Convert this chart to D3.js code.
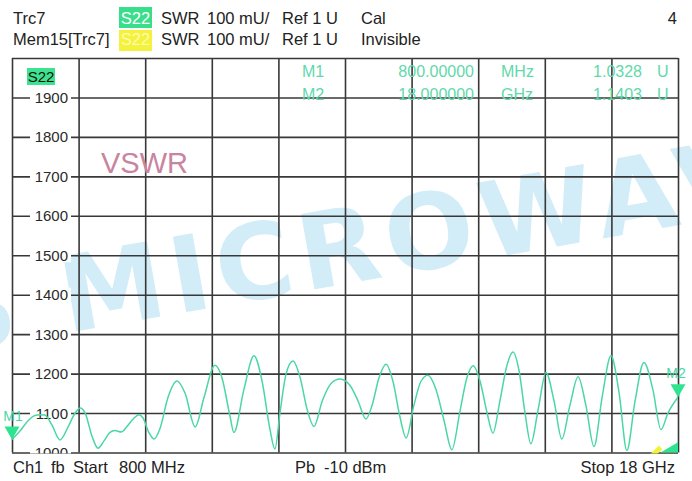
<!DOCTYPE html>
<html>
<head>
<meta charset="utf-8">
<script src="https://cdn.jsdelivr.net/npm/d3@7/dist/d3.min.js"></script>
<style>
body { margin: 0; background: #fff; }
svg { display: block; font-family: "Liberation Sans", Arial, sans-serif; }
</style>
</head>
<body>
<div id="chart"></div>
<script>
// trace: frequency (GHz) and SWR (mU)
const freqGHz = [0.80, 1.01, 1.21, 1.39, 1.52, 1.65, 1.83, 2.04, 2.25, 2.43, 2.56, 2.69, 2.87, 3.02,
  3.18, 3.33, 3.46, 3.62, 3.77, 3.93, 4.08, 4.18, 4.34, 4.47, 4.62, 4.83, 5.06, 5.27, 5.53, 5.76,
  6.04, 6.22, 6.43, 6.53, 6.79, 7.05, 7.26, 7.46, 7.59, 7.72, 7.88, 8.06, 8.24, 8.42, 8.60, 8.81,
  9.04, 9.27, 9.53, 9.74, 9.94, 10.10, 10.28, 10.46, 10.64, 10.82, 10.98, 11.18, 11.36, 11.54,
  11.75, 11.96, 12.16, 12.37, 12.55, 12.71, 12.89, 13.07, 13.22, 13.40, 13.58, 13.74, 13.89,
  14.05, 14.20, 14.39, 14.59, 14.80, 15.00, 15.21, 15.42, 15.62, 15.83, 16.04, 16.27, 16.48,
  16.68, 16.89, 17.12, 17.35, 17.56, 17.74, 18.00];
const swrMilli = [1033, 1055, 1080, 1094, 1096, 1095, 1070, 1032, 1065, 1100, 1113, 1100, 1040, 1011,
  1030, 1051, 1056, 1052, 1066, 1085, 1096, 1088, 1050, 1034, 1060, 1140, 1181, 1150, 1065, 1140,
  1221, 1190, 1092, 1051, 1160, 1245, 1180, 1060, 1009, 1100, 1200, 1232, 1190, 1110, 1066, 1130,
  1175, 1186, 1170, 1130, 1085, 1120, 1190, 1224, 1180, 1090, 1037, 1120, 1180, 1196,
  1160, 1080, 1007, 1105, 1190, 1220, 1180, 1100, 1049, 1130, 1220, 1255, 1210,
  1100, 1022, 1110, 1203, 1130, 1034, 1120, 1192, 1120, 1015, 1140, 1245, 1150,
  1005, 1130, 1228, 1160, 1058, 1100, 1140];

const yTicks = [1000, 1100, 1200, 1300, 1400, 1500, 1600, 1700, 1800, 1900, 2000];
const yTickLabels = ['1000', '1100', '1200', '1300', '1400', '1500', '1600', '1700', '1800', '1900'];
const xDivisions = [0.80, 2.52, 4.24, 5.96, 7.68, 9.40, 11.12, 12.84, 14.56, 16.28, 18.00];

const markerNames = ['M1', 'M2'];
const markerFreq = [0.8, 18];
const markerSwr = [1032.8, 1140.3];
const markerStim = ['800.00000', '18.000000'];
const markerStimUnit = ['MHz', 'GHz'];
const markerResp = ['1.0328', '1.1403'];

// memory trace, only its tail shows above the bottom edge
const memFreq = [17.25, 17.55];
const memSwr = [984, 1013];
const tailFreq = [17.55, 18.0];
const tailSwr = [1000, 1026];

const width = 692, height = 481;
const traceColor = '#4ad7a3';
const markColor = '#2fe48f';

const svg = d3.select('#chart').append('svg')
  .attr('width', width)
  .attr('height', height);

const x = d3.scaleLinear().domain([0.8, 18]).range([12, 678]);
const y = d3.scaleLinear().domain([1000, 2000]).range([452.5, 58]);

svg.append('defs').append('clipPath').attr('id', 'plot')
  .append('rect')
  .attr('x', x(0.8)).attr('y', y(2000))
  .attr('width', x(18) - x(0.8)).attr('height', y(1000) - y(2000) + 1);

// watermark
const wm = svg.append('g')
  .attr('transform', 'translate(67,333) rotate(-10)')
  .attr('font-family', '"DejaVu Sans", sans-serif')
  .attr('font-weight', 'bold')
  .attr('font-size', 105)
  .attr('fill', '#d2ecf8');
wm.append('text').attr('x', -122).text('S');
wm.append('text').attr('letter-spacing', 7).text('MICROWAVE');

// grid
const grid = svg.append('g');
grid.append('g')
  .attr('transform', `translate(0,${y(1000)})`)
  .call(d3.axisBottom(x).tickValues(xDivisions).tickSize(-(y(1000) - y(2000))).tickFormat(''));
grid.append('g')
  .attr('transform', `translate(${x(0.8)},0)`)
  .call(d3.axisLeft(y).tickValues(yTicks).tickSize(-(x(18) - x(0.8))).tickFormat(''));
grid.selectAll('.domain').remove();
grid.selectAll('line').attr('stroke', '#383838').attr('stroke-width', 1.6);

// y labels sit on the grid lines with a white backing
const yl = svg.append('g').attr('clip-path', 'url(#plot)');
yl.selectAll('rect').data(yTickLabels).enter().append('rect')
  .attr('x', 30).attr('width', 41)
  .attr('y', d => y(+d) - 7).attr('height', 14)
  .attr('fill', '#fff');
yl.selectAll('text').data(yTickLabels).enter().append('text')
  .attr('x', 68).attr('y', d => y(+d) + 5.5)
  .attr('text-anchor', 'end')
  .attr('font-size', 15)
  .attr('fill', '#2a2a2a')
  .text(d => d);

// trace
const line = d3.line()
  .x(d => x(d[0]))
  .y(d => y(d[1]))
  .curve(d3.curveMonotoneX);

svg.append('path')
  .datum(d3.zip(freqGHz, swrMilli))
  .attr('clip-path', 'url(#plot)')
  .attr('fill', 'none')
  .attr('stroke', traceColor)
  .attr('stroke-width', 1.5)
  .attr('d', line);

svg.append('path')
  .datum(d3.zip(memFreq, memSwr))
  .attr('clip-path', 'url(#plot)')
  .attr('fill', 'none')
  .attr('stroke', '#f2f23a')
  .attr('stroke-width', 5)
  .attr('d', d3.line().x(d => x(d[0])).y(d => y(d[1])));

svg.append('path')
  .datum(d3.zip(tailFreq, tailSwr))
  .attr('fill', markColor)
  .attr('d', d3.area().x(d => x(d[0])).y0(y(1000)).y1(d => y(d[1])));

// markers
const mk = svg.append('g').selectAll('g')
  .data(markerNames).enter().append('g')
  .attr('transform', (d, i) => `translate(${x(markerFreq[i])},${y(markerSwr[i])})`);
mk.append('path')
  .attr('d', 'M0,0 L-7.5,-13 L7.5,-13 Z')
  .attr('fill', markColor);
mk.append('text')
  .attr('x', (d, i) => i === 0 ? 1 : -2)
  .attr('y', -19)
  .attr('text-anchor', 'middle')
  .attr('font-size', 14)
  .attr('fill', traceColor)
  .text(d => d);

// marker table
const table = svg.append('g')
  .attr('font-size', 16)
  .attr('fill', '#5fd9ab');
markerNames.forEach((name, i) => {
  const by = 77 + i * 23;
  table.append('text').attr('x', 302).attr('y', by).text(name);
  table.append('text').attr('x', 474).attr('y', by).attr('text-anchor', 'end').text(markerStim[i]);
  table.append('text').attr('x', 501).attr('y', by).text(markerStimUnit[i]);
  table.append('text').attr('x', 642).attr('y', by).attr('text-anchor', 'end').text(markerResp[i]);
  table.append('text').attr('x', 657).attr('y', by).text('U');
});

// trace label inside the grid
svg.append('rect').attr('x', 27).attr('y', 68).attr('width', 28).attr('height', 17).attr('fill', '#3ee38f');
svg.append('text').attr('x', 41).attr('y', 82).attr('text-anchor', 'middle')
  .attr('font-size', 15).attr('fill', '#111').text('S22');

svg.append('text')
  .attr('x', 101).attr('y', 173)
  .attr('font-size', 29)
  .attr('fill', '#c9849f')
  .text('VSWR');

// header
const head = svg.append('g').attr('font-size', 16.5).attr('fill', '#222');
head.append('text').attr('x', 13).attr('y', 24).text('Trc7');
head.append('text').attr('x', 13).attr('y', 45).text('Mem15[Trc7]');
head.append('rect').attr('x', 119).attr('y', 7).attr('width', 33).attr('height', 21).attr('fill', '#38de8a');
head.append('rect').attr('x', 119).attr('y', 30).attr('width', 33).attr('height', 21).attr('fill', '#f4f23c');
head.append('text').attr('x', 135.5).attr('y', 24).attr('text-anchor', 'middle').attr('fill', '#fff').text('S22');
head.append('text').attr('x', 135.5).attr('y', 45).attr('text-anchor', 'middle').attr('fill', '#fdfbb0').text('S22');
[24, 45].forEach((by, i) => {
  head.append('text').attr('x', 161).attr('y', by).text('SWR');
  head.append('text').attr('x', 207).attr('y', by).text('100 mU/');
  head.append('text').attr('x', 282).attr('y', by).text('Ref 1 U');
  head.append('text').attr('x', 361).attr('y', by).text(i === 0 ? 'Cal' : 'Invisible');
});
head.append('text').attr('x', 677).attr('y', 24).attr('text-anchor', 'end').text('4');

// footer
const foot = svg.append('g').attr('font-size', 16.5).attr('fill', '#222');
foot.append('text').attr('x', 13).attr('y', 473).text('Ch1');
foot.append('text').attr('x', 51).attr('y', 473).text('fb');
foot.append('text').attr('x', 73).attr('y', 473).text('Start');
foot.append('text').attr('x', 119).attr('y', 473).text('800 MHz');
foot.append('text').attr('x', 295).attr('y', 473).text('Pb');
foot.append('text').attr('x', 324).attr('y', 473).text('-10 dBm');
foot.append('text').attr('x', 675).attr('y', 473).attr('text-anchor', 'end').text('Stop  18 GHz');
</script>
</body>
</html>
